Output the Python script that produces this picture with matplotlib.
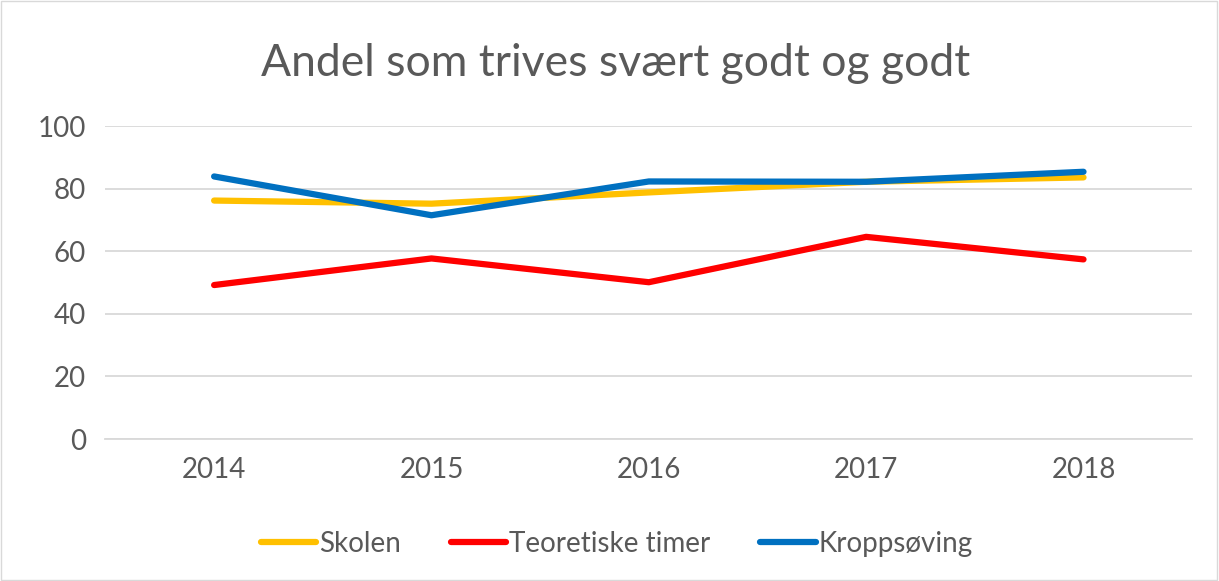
import matplotlib
matplotlib.use("Agg")
import matplotlib.pyplot as plt

years = ["2014", "2015", "2016", "2017", "2018"]
skolen = [76.2, 75.2, 78.8, 82.2, 83.6]
teoretiske = [49.2, 57.7, 50.1, 64.6, 57.4]
kropps = [83.9, 71.5, 82.3, 82.2, 85.4]
yticks = [0, 20, 40, 60, 80, 100]

plt.rcParams['font.family'] = ['Lato', 'DejaVu Sans']
txt = "#595959"

fig = plt.figure(figsize=(12.19, 5.81), dpi=100)
ax = fig.add_axes([0.0865, 0.2444, 0.8915, 0.5386])

x = range(len(years))
ax.plot(x, skolen, color="#FFC000", lw=4.5, solid_capstyle="round", solid_joinstyle="round", label="Skolen", zorder=3)
ax.plot(x, teoretiske, color="#FF0000", lw=4.5, solid_capstyle="round", solid_joinstyle="round", label="Teoretiske timer", zorder=3)
ax.plot(x, kropps, color="#0070C0", lw=4.5, solid_capstyle="round", solid_joinstyle="round", label="Kroppsøving", zorder=4)

ax.set_xlim(-0.5, len(years) - 0.5)
ax.set_ylim(0, 100)
ax.set_yticks(yticks)
ax.set_xticks(list(x))
ax.set_xticklabels(years)
ax.grid(axis="y", color="#D9D9D9", lw=1.3)
ax.set_axisbelow(True)
for s in ["top", "right", "left"]:
    ax.spines[s].set_visible(False)
ax.spines["bottom"].set_color("#D9D9D9")
ax.spines["bottom"].set_linewidth(1.3)
ax.tick_params(axis="both", length=0, colors=txt, labelsize=20)
ax.tick_params(axis="y", pad=14)
ax.tick_params(axis="x", pad=13)

fig.text(0.505, 0.891, "Andel som trives svært godt og godt", ha="center", va="center", fontsize=32, color=txt)

leg = fig.legend(loc="center", bbox_to_anchor=(0.506, 0.064), ncol=3, frameon=False,
                 fontsize=20, handlelength=2.0, handletextpad=0.1, columnspacing=1.8)
for t in leg.get_texts():
    t.set_color(txt)

fig.patches.append(plt.Rectangle((0.001, 0.002), 0.997, 0.996, transform=fig.transFigure,
                                 fill=False, edgecolor="#D9D9D9", lw=1))

fig.savefig("out.png", dpi=100)
